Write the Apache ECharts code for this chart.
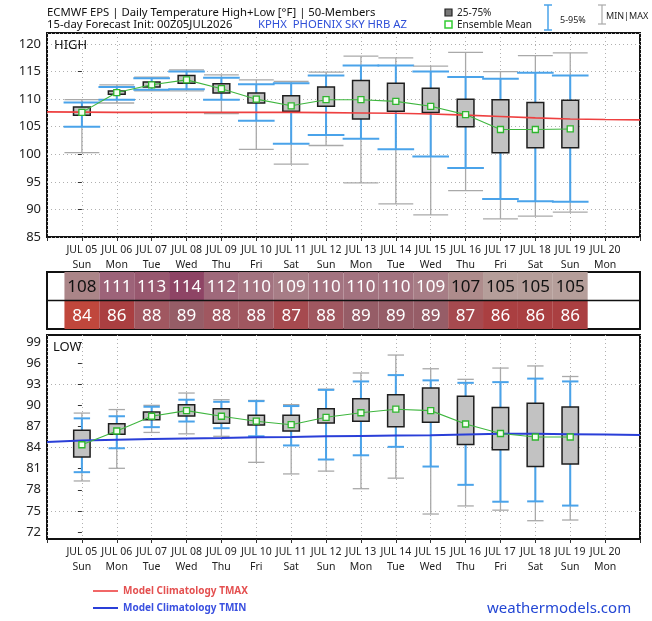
<!DOCTYPE html>
<html><head><meta charset="utf-8">
<script src="https://cdn.jsdelivr.net/npm/echarts@6/dist/echarts.min.js"></script>
<style>html,body{margin:0;padding:0;background:#fff}#c{width:652px;height:621px}</style>
</head><body><div id="c"></div><script>
// ---------- DATA ----------
const dates = ['JUL 05','JUL 06','JUL 07','JUL 08','JUL 09','JUL 10','JUL 11','JUL 12','JUL 13','JUL 14','JUL 15','JUL 16','JUL 17','JUL 18','JUL 19','JUL 20'];
const weekdays = ['Sun','Mon','Tue','Wed','Thu','Fri','Sat','Sun','Mon','Tue','Wed','Thu','Fri','Sat','Sun','Mon'];

const hiMax  = [109.9,112.6,114.0,115.3,114.4,113.5,113.2,114.9,117.8,117.5,116.0,118.5,115.0,117.9,118.4];
const hiP95  = [109.4,112.2,113.8,115.0,113.9,112.7,112.9,114.3,116.1,116.1,115.0,114.0,113.7,114.8,114.3];
const hiQ3   = [108.6,111.5,113.1,114.3,112.8,111.1,110.6,112.2,113.4,112.9,112.0,110.0,109.9,109.4,109.8];
const hiQ1   = [107.1,110.9,112.2,112.9,111.1,109.3,107.8,108.7,106.4,107.8,107.6,105.0,100.3,101.2,101.2];
const hiP5   = [105.0,109.9,111.7,111.8,109.9,106.1,101.9,103.5,102.8,100.9,99.6,97.5,91.9,91.5,91.4];
const hiMin  = [100.3,109.3,111.5,111.5,107.4,100.9,98.2,101.6,94.8,91.0,89.0,93.4,88.3,88.8,89.5];
const hiMean = [107.6,111.2,112.6,113.5,111.9,110.0,108.8,109.9,109.9,109.6,108.7,107.2,104.5,104.5,104.6];

const loMax  = [88.9,89.4,90.0,91.75,90.8,90.7,90.1,92.3,94.6,97.15,95.2,93.7,95.3,95.6,94.1];
const loP95  = [88.15,88.45,89.8,90.8,90.5,90.6,89.9,92.2,93.4,94.3,93.55,93.2,93.3,93.8,93.4];
const loQ3   = [86.45,87.4,89.05,90.1,89.5,88.6,88.6,89.5,90.95,91.5,92.45,91.3,89.7,90.3,89.75];
const loQ1   = [82.65,85.9,87.95,88.5,87.45,87.2,86.35,87.5,87.75,86.95,87.6,84.45,83.7,81.3,81.65];
const loP5   = [80.5,83.9,86.9,87.7,86.75,85.6,84.3,82.3,82.9,84.1,81.3,78.7,76.3,76.35,75.75];
const loMin  = [79.25,81.05,86.15,85.95,85.6,81.9,80.25,80.65,78.15,79.65,74.55,75.7,75.1,73.6,73.7];
const loMean = [84.4,86.35,88.45,89.25,88.45,87.75,87.25,88.3,88.95,89.45,89.25,87.35,86.0,85.5,85.5];

// climatology, days -1 .. 16 (JUL 04 .. JUL 21)
const climDays = [-1,0,1,2,3,4,5,6,7,8,9,10,11,12,13,14,15,16];
const tmaxClim = [107.7,107.65,107.6,107.6,107.6,107.6,107.6,107.6,107.55,107.5,107.45,107.3,107.1,106.85,106.6,106.4,106.3,106.25];
const tminClim = [84.8,85.0,85.1,85.2,85.3,85.35,85.45,85.5,85.6,85.65,85.7,85.75,85.85,85.95,85.95,85.9,85.85,85.8];

const hiTable = [108,111,113,114,112,110,109,110,110,110,109,107,105,105,105];
const loTable = [84,86,88,89,88,88,87,88,89,89,89,87,86,86,86];

const hiTicks = [85,90,95,100,105,110,115,120];
const loTicks = [72,75,78,81,84,87,90,93,96,99];

// ---------- STYLE ----------
const hiCellColor = {105:'#b59e9a',107:'#ae8c8c',108:'#ab8588',109:'#a77d86',110:'#a37380',111:'#9d6379',112:'#9f697b',113:'#98586f',114:'#8e4465'};
const loCellColor = {84:'#c0473c',86:'#aa3f41',87:'#a64a4f',88:'#a05760',89:'#965d67'};
const FONT = 'Noto Sans';
const BLUE = '#4aa3ea', GRAY = '#a9a9a9';

function boxData(mn,p5,q1,q3,p95,mx){
  return mn.map((v,i)=>[i,v,p5[i],q1[i],q3[i],p95[i],mx[i]]);
}
function makeBoxRender(capFracBlue, capFracGray, boxFrac){
  return function(params, api){
    const x = api.value(0);
    const dayW = api.size([1,0])[0];
    const c = api.coord([x, api.value(1)])[0];
    const y = k => api.coord([x, api.value(k)])[1];
    const yMin=y(1), yP5=y(2), yQ1=y(3), yQ3=y(4), yP95=y(5), yMax=y(6);
    const gb = capFracGray*dayW/2, bb = capFracBlue*dayW/2, hb = boxFrac*dayW/2;
    const gs = {stroke:GRAY, lineWidth:1.3};
    const bs = {stroke:BLUE, lineWidth:2};
    return {type:'group', children:[
      {type:'line', shape:{x1:c,y1:yMin,x2:c,y2:yMax}, style:gs},
      {type:'line', shape:{x1:c-gb,y1:yMin,x2:c+gb,y2:yMin}, style:gs},
      {type:'line', shape:{x1:c-gb,y1:yMax,x2:c+gb,y2:yMax}, style:gs},
      {type:'line', shape:{x1:c,y1:yP5,x2:c,y2:yP95}, style:bs},
      {type:'line', shape:{x1:c-bb,y1:yP5,x2:c+bb,y2:yP5}, style:bs},
      {type:'line', shape:{x1:c-bb,y1:yP95,x2:c+bb,y2:yP95}, style:bs},
      {type:'rect', shape:{x:c-hb,y:yQ3,width:2*hb,height:yQ1-yQ3}, style:{fill:'#c2c2c2',stroke:'#1e1e1e',lineWidth:1.5}}
    ]};
  };
}
function tableRender(params, api){
  const d = api.value(0), row = api.value(1), val = api.value(2);
  const p0 = api.coord([d-0.5,row+1]), p1 = api.coord([d+0.5,row]);
  const fill = row===1 ? hiCellColor[val] : loCellColor[val];
  const txt = (row===1 && val<=108) ? '#111' : '#fff';
  return {type:'group', children:[
    {type:'rect', shape:{x:p0[0],y:p0[1],width:p1[0]-p0[0],height:p1[1]-p0[1]}, style:{fill:fill}},
    {type:'text', x:(p0[0]+p1[0])/2, y:(p0[1]+p1[1])/2+1, style:{text:String(val), fill:txt, font:'17px "'+FONT+'"', align:'center', verticalAlign:'middle'}}
  ]};
}
const tableData = hiTable.map((v,i)=>[i,1,v]).concat(loTable.map((v,i)=>[i,0,v]));

const dotted = {type:[1,3], color:'#b0b0b0', width:1};
function dateAxis(g){
  return {type:'value', gridIndex:g, position:'bottom', min:-1, max:16, interval:1,
    axisLine:{show:false}, axisTick:{show:true, length:4, lineStyle:{color:'#333'}},
    axisLabel:{formatter:v=>(v>=0&&v<dates.length)?dates[v]:'', fontSize:10.5, color:'#222', fontFamily:FONT, margin:8},
    splitLine:{show:true, lineStyle:dotted}};
}
function dayAxis(g){
  return {type:'value', gridIndex:g, position:'bottom', min:-1, max:16, interval:1, offset:16,
    axisLine:{show:false}, axisTick:{show:false},
    axisLabel:{formatter:v=>(v>=0&&v<weekdays.length)?weekdays[v]:'', fontSize:10.5, color:'#222', fontFamily:FONT, margin:7},
    splitLine:{show:false}};
}
const grids = [
  {left:47, right:12, top:33, height:204, show:true, borderColor:'#111', borderWidth:2, backgroundColor:'#fff'},
  {left:47, right:12, top:272, height:57, show:true, borderColor:'#111', borderWidth:2, backgroundColor:'#fff'},
  {left:47, right:12, top:335, height:204, show:true, borderColor:'#111', borderWidth:2, backgroundColor:'#fff'}
];
const hidden = g => ({type:'value', gridIndex:g, min:-1, max:16, show:false, splitLine:{show:false}});

const option = {
  animation:false,
  backgroundColor:'#fff',
  textStyle:{fontFamily:FONT},
  grid:grids,
  xAxis:[dateAxis(0), dayAxis(0), hidden(1), dateAxis(2), dayAxis(2)],
  yAxis:[
    {type:'value', gridIndex:0, min:85, max:122, interval:5,
      axisLine:{show:false}, axisTick:{show:true,length:4,lineStyle:{color:'#333'}},
      axisLabel:{formatter:v=>hiTicks.indexOf(v)>=0?String(v):'', fontSize:13, color:'#222', fontFamily:FONT, margin:6},
      splitLine:{show:true, lineStyle:dotted}},
    {type:'value', gridIndex:1, min:0, max:2, show:false, splitLine:{show:false}},
    {type:'value', gridIndex:2, min:71, max:100, interval:1,
      axisLine:{show:false}, axisTick:{show:true,length:4,lineStyle:{color:'#333'}, customValues:loTicks},
      axisLabel:{formatter:v=>loTicks.indexOf(v)>=0?String(v):'', fontSize:13, color:'#222', fontFamily:FONT, margin:6},
      splitLine:{show:true, lineStyle:{type:[1,3], width:1, color:['rgba(0,0,0,0)','#b0b0b0','rgba(0,0,0,0)']}}}
  ],
  series:[
    {type:'custom', xAxisIndex:0, yAxisIndex:0, z:2, renderItem:makeBoxRender(1.05,1.0,0.48), data:boxData(hiMin,hiP5,hiQ1,hiQ3,hiP95,hiMax), silent:true},
    {type:'line', xAxisIndex:0, yAxisIndex:0, z:3, data:climDays.map((d,i)=>[d,tmaxClim[i]]), showSymbol:false, symbol:'none', lineStyle:{color:'#ee4040',width:1.6}},
    {type:'line', xAxisIndex:0, yAxisIndex:0, z:4, data:hiMean.map((v,i)=>[i,v]), symbol:'rect', symbolSize:6, lineStyle:{color:'#3fb63f',width:1.1}, itemStyle:{color:'#f4fff0',borderColor:'#2fb52f',borderWidth:1.3}},
    {type:'custom', xAxisIndex:2, yAxisIndex:1, z:2, renderItem:tableRender, data:tableData, silent:true},
    {type:'line', xAxisIndex:2, yAxisIndex:1, z:3, data:[[-1,1],[16,1]], symbol:'none', lineStyle:{color:'#111',width:1.5}},
    {type:'custom', xAxisIndex:3, yAxisIndex:2, z:2, renderItem:makeBoxRender(0.47,0.47,0.47), data:boxData(loMin,loP5,loQ1,loQ3,loP95,loMax), silent:true},
    {type:'line', xAxisIndex:3, yAxisIndex:2, z:3, data:climDays.map((d,i)=>[d,tminClim[i]]), symbol:'none', lineStyle:{color:'#2a3fd8',width:2}},
    {type:'line', xAxisIndex:3, yAxisIndex:2, z:4, data:loMean.map((v,i)=>[i,v]), symbol:'rect', symbolSize:6, lineStyle:{color:'#3fb63f',width:1.1}, itemStyle:{color:'#f4fff0',borderColor:'#2fb52f',borderWidth:1.3}}
  ],
  graphic:[
    {type:'text', x:47, y:13, style:{text:'ECMWF EPS | Daily Temperature High+Low [°F] | 50-Members', font:'11.3px "'+FONT+'"', fill:'#111', verticalAlign:'middle'}},
    {type:'text', x:47, y:25, style:{text:'15-day Forecast Init: 00Z05JUL2026', font:'11.3px "'+FONT+'"', fill:'#111', verticalAlign:'middle'}},
    {type:'text', x:258, y:25, style:{text:'KPHX  PHOENIX SKY HRB AZ', font:'11.3px "'+FONT+'"', fill:'#2f4fd8', verticalAlign:'middle'}},
    {type:'rect', shape:{x:445,y:9,width:7,height:7}, style:{fill:'#777',stroke:'#222',lineWidth:1.2}},
    {type:'text', x:457, y:13, style:{text:'25-75%', font:'10px "'+FONT+'"', fill:'#222', verticalAlign:'middle'}},
    {type:'rect', shape:{x:445,y:21,width:7,height:7}, style:{fill:'#fff',stroke:'#33cc33',lineWidth:1.5}},
    {type:'text', x:457, y:25, style:{text:'Ensemble Mean', font:'10px "'+FONT+'"', fill:'#222', verticalAlign:'middle'}},
    {type:'line', shape:{x1:548,y1:5,x2:548,y2:30}, style:{stroke:BLUE,lineWidth:1.5}},
    {type:'line', shape:{x1:544,y1:5,x2:552,y2:5}, style:{stroke:BLUE,lineWidth:1.5}},
    {type:'line', shape:{x1:544,y1:30,x2:552,y2:30}, style:{stroke:BLUE,lineWidth:1.5}},
    {type:'text', x:560, y:20, style:{text:'5-95%', font:'9px "'+FONT+'"', fill:'#222', verticalAlign:'middle'}},
    {type:'line', shape:{x1:602,y1:5,x2:602,y2:24}, style:{stroke:GRAY,lineWidth:1.2}},
    {type:'line', shape:{x1:598,y1:5,x2:606,y2:5}, style:{stroke:GRAY,lineWidth:1.2}},
    {type:'line', shape:{x1:598,y1:24,x2:606,y2:24}, style:{stroke:GRAY,lineWidth:1.2}},
    {type:'text', x:606, y:16, style:{text:'MIN|MAX', font:'9px "'+FONT+'"', fill:'#222', verticalAlign:'middle'}},
    {type:'text', x:54, y:45, style:{text:'HIGH', font:'13px "'+FONT+'"', fill:'#111', verticalAlign:'middle'}},
    {type:'text', x:53, y:347, style:{text:'LOW', font:'13px "'+FONT+'"', fill:'#111', verticalAlign:'middle'}},
    {type:'line', shape:{x1:93,y1:591,x2:118,y2:591}, style:{stroke:'#ee4040',lineWidth:1.6}},
    {type:'text', x:123, y:591, style:{text:'Model Climatology TMAX', font:'bold 10px "'+FONT+'"', fill:'#e45050', verticalAlign:'middle'}},
    {type:'line', shape:{x1:93,y1:608,x2:118,y2:608}, style:{stroke:'#2a3fd8',lineWidth:2}},
    {type:'text', x:123, y:608, style:{text:'Model Climatology TMIN', font:'bold 10px "'+FONT+'"', fill:'#3a50e0', verticalAlign:'middle'}},
    {type:'text', x:487, y:609, style:{text:'weathermodels.com', font:'15px "'+FONT+'"', fill:'#2447d4', verticalAlign:'middle'}}
  ]
};
const chart = echarts.init(document.getElementById('c'), null, {renderer:'canvas'});
chart.setOption(option);
</script></body></html>
